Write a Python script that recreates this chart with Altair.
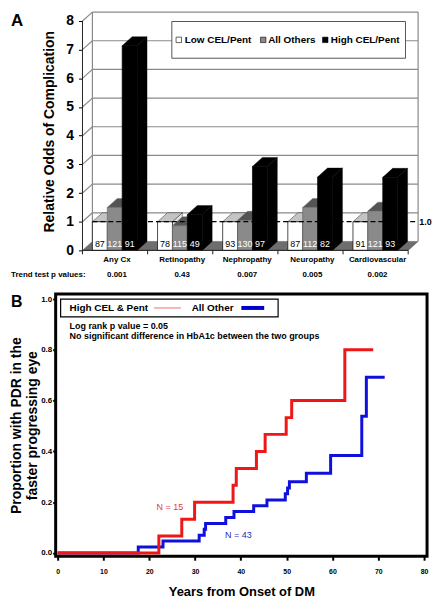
import altair as alt
import pandas as pd

# ---------------- data: panel A ----------------
categories = ["Any Cx", "Retinopathy", "Nephropathy", "Neuropathy", "Cardiovascular"]
series_names = ["Low CEL/Pent", "All Others", "High CEL/Pent"]
odds_low = [1.0, 1.0, 1.0, 1.0, 1.0]
odds_others = [1.50, 0.86, 1.05, 1.50, 1.37]
odds_high = [7.14, 1.25, 2.93, 2.56, 2.55]
n_low = [87, 78, 93, 87, 91]
n_others = [121, 115, 130, 112, 121]
n_high = [91, 49, 97, 82, 93]
trend_p = ["0.001", "0.43", "0.007", "0.005", "0.002"]
odds_ticks = [0, 1, 2, 3, 4, 5, 6, 7, 8]
reference_odds = 1.0

# ---------------- data: panel B ----------------
high_years = [0, 22.1, 27.1, 29.9, 38.3, 39.0, 43.4, 45.3, 49.9, 51.1, 62.7, 68.9]
high_prop = [0, 0.067, 0.133, 0.200, 0.267, 0.333, 0.400, 0.467, 0.533, 0.600, 0.800, 0.800]
other_years = [0, 17.6, 23.0, 30.9, 32.0, 32.3, 36.7, 38.5, 42.8, 45.7, 49.7, 50.2, 50.6,
               54.3, 59.6, 66.4, 67.4, 71.4]
other_prop = [0, 0.023, 0.047, 0.070, 0.093, 0.116, 0.140, 0.163, 0.186, 0.209, 0.233, 0.256,
              0.280, 0.314, 0.384, 0.538, 0.692, 0.692]
year_ticks = [0, 10, 20, 30, 40, 50, 60, 70, 80]
prop_ticks = [0.0, 0.2, 0.4, 0.6, 0.8, 1.0]

FONT = "Liberation Sans"
W = 374          # plot width shared by both panels (page x 53 .. 427)
PAGE_TOP = 8     # page y of panel A's plot top

# ================= panel A geometry (pseudo-3D bars) =================
A_PX_X = 65.6                       # px per category
A_H = 240                           # plot height of panel A
DEPTH_X, DEPTH_Y = 10, 9            # 3-D depth offset in px
A_PX_Y = (A_H - DEPTH_Y) / 8        # px per odds unit
A_ZERO = PAGE_TOP + A_H             # page y of odds 0
xa_dom = [-27 / A_PX_X, (W - 27) / A_PX_X]
ya_dom = [0, A_H / A_PX_Y]
DX = DEPTH_X / A_PX_X
DY = DEPTH_Y / A_PX_Y
BAR = 15 / A_PX_X
GAP = 10 / A_PX_X
ncat = len(categories)
top_odds = odds_ticks[-1]


def ax(px):
    return (px - 80) / A_PX_X


def ay(py):
    return (A_ZERO - py) / A_PX_Y


xs = alt.Scale(domain=xa_dom, nice=False, zero=False)
ys = alt.Scale(domain=ya_dom, nice=False, zero=False)

axisA = alt.Axis(values=odds_ticks, offset=-27, domain=False, grid=False, tickSize=4,
                 tickColor="black", labelFont=FONT, labelFontSize=14, labelFontWeight="bold",
                 labelColor="black", labelPadding=5, labelFlush=False,
                 title="Relative Odds of Complication", titleFont=FONT, titleFontSize=14,
                 titleFontWeight="bold", titleColor="black", titlePadding=9)


def XA(f):
    return alt.X(f, type="quantitative", scale=xs, axis=None)


def YA(f):
    return alt.Y(f, type="quantitative", scale=ys, axis=axisA)


series = [
    dict(name=series_names[0], odds=odds_low, n=n_low, front="#ffffff", top="#c4c4c4",
         side="#e2e2e2", txt="#000000", stroke="#000000"),
    dict(name=series_names[1], odds=odds_others, n=n_others, front="#8a8a8a", top="#545454",
         side="#666666", txt="#ffffff", stroke="#666666"),
    dict(name=series_names[2], odds=odds_high, n=n_high, front="#000000", top="#000000",
         side="#000000", txt="#ffffff", stroke="#000000"),
]

# floor
floor = pd.DataFrame({"x": [0, DX, ncat, ncat + DX], "y": [0, 0, 0, DY],
                      "y2": [0, DY, DY, DY]})
floor_layer = alt.Chart(floor).mark_area(color="#6e6e6e", stroke="#555555", strokeWidth=0.5).encode(
    x=XA("x"), y=YA("y"), y2="y2")

# walls / gridlines
grid_rows = []
for k in odds_ticks[1:]:
    grid_rows.append(dict(x=DX, x2=ncat + DX, y=k + DY, y2=k + DY))
    grid_rows.append(dict(x=0, x2=DX, y=k, y2=k + DY))
grid_rows.append(dict(x=DX, x2=DX, y=DY, y2=top_odds + DY))
grid_rows.append(dict(x=ncat + DX, x2=ncat + DX, y=DY, y2=top_odds + DY))
grid_layer = alt.Chart(pd.DataFrame(grid_rows)).mark_rule(color="#8a8a8a", strokeWidth=1.2).encode(
    x=XA("x"), x2="x2", y=YA("y"), y2="y2")

bar_layers = []
label_rows = []
for s, ser in enumerate(series):
    fronts, tops, sides = [], [], []
    for i, v in enumerate(ser["odds"]):
        x0 = i + GAP + s * BAR
        x1 = x0 + BAR
        fronts.append(dict(x=x0, x2=x1, y=0, y2=v))
        for xx, lo, hi in [(x0, v, v), (x0 + DX, v, v + DY), (x1, v, v + DY), (x1 + DX, v + DY, v + DY)]:
            tops.append(dict(key=i, x=xx, y=lo, y2=hi))
        for xx, lo, hi in [(x1, 0, v), (x1 + DX, DY, v + DY)]:
            sides.append(dict(key=i, x=xx, y=lo, y2=hi))
        label_rows.append(dict(x=(x0 + x1) / 2, y=6 / A_PX_Y, t=str(ser["n"][i]), c=ser["txt"]))
    bar_layers.append(alt.Chart(pd.DataFrame(sides)).mark_area(
        color=ser["side"], stroke=ser["stroke"], strokeWidth=0.4).encode(
        x=XA("x"), y=YA("y"), y2="y2", detail="key:N"))
    bar_layers.append(alt.Chart(pd.DataFrame(tops)).mark_area(
        color=ser["top"], stroke=ser["stroke"], strokeWidth=0.4).encode(
        x=XA("x"), y=YA("y"), y2="y2", detail="key:N"))
    bar_layers.append(alt.Chart(pd.DataFrame(fronts)).mark_rect(
        color=ser["front"], stroke=ser["stroke"], strokeWidth=0.7).encode(
        x=XA("x"), x2="x2", y=YA("y"), y2="y2"))

n_layer = alt.Chart(pd.DataFrame(label_rows)).mark_text(
    font=FONT, fontSize=9, align="center", baseline="middle").encode(
    x=XA("x"), y=YA("y"), text="t:N", color=alt.Color("c:N", scale=None))

ref_layer = alt.Chart(pd.DataFrame({"x": [GAP], "x2": [ax(415)],
                                    "y": [reference_odds]})).mark_rule(
    color="black", strokeWidth=1.3, strokeDash=[5, 3]).encode(x=XA("x"), x2="x2", y=YA("y"))
ref_text = alt.Chart(pd.DataFrame({"x": [ax(425.5)], "y": [reference_odds],
                                   "t": [f"{reference_odds:.1f}"]})).mark_text(
    font=FONT, fontSize=9, fontWeight="bold", align="center", baseline="middle").encode(
    x=XA("x"), y=YA("y"), text="t:N")

# front axis lines and ticks
axis_rows = [dict(x=0, x2=0, y=0, y2=top_odds), dict(x=0, x2=ncat, y=0, y2=0)]
for i in range(ncat + 1):
    axis_rows.append(dict(x=i, x2=i, y=0, y2=-4 / A_PX_Y))
axis_layer = alt.Chart(pd.DataFrame(axis_rows)).mark_rule(color="#222222", strokeWidth=1).encode(
    x=XA("x"), x2="x2", y=YA("y"), y2="y2")

cat_df = pd.DataFrame({"x": [i + 0.53 for i in range(ncat)], "cat": categories, "p": trend_p})
cat_layer = alt.Chart(cat_df).mark_text(font=FONT, fontSize=8, fontWeight="bold",
                                        align="center", baseline="middle").encode(
    x=XA("x"), y=alt.value(A_H + 10), text="cat:N")
p_layer = alt.Chart(cat_df).mark_text(font=FONT, fontSize=8, fontWeight="bold",
                                      align="center", baseline="middle").encode(
    x=XA("x"), y=alt.value(A_H + 25), text="p:N")
side_text = alt.Chart(pd.DataFrame({"x": [ax(8)], "t": ["Trend test p values:"]})).mark_text(
    font=FONT, fontSize=8, fontWeight="bold", align="left", baseline="middle").encode(
    x=XA("x"), y=alt.value(A_H + 25), text="t:N")
panel_a_label = alt.Chart(pd.DataFrame({"x": [ax(8)], "t": ["A"]})).mark_text(
    font=FONT, fontSize=17, fontWeight="bold", align="left", baseline="middle").encode(
    x=XA("x"), y=alt.value(9), text="t:N")

# legend of panel A
leg_box = alt.Chart(pd.DataFrame({"x": [ax(170)], "x2": [ax(405.3)],
                                  "y": [ay(17.5)], "y2": [ay(54.5)]})).mark_rect(
    fill="white", stroke="#555555", strokeWidth=1).encode(x=XA("x"), x2="x2", y=YA("y"), y2="y2")
leg_df = pd.DataFrame({
    "sx": [ax(177), ax(262), ax(324.5)],
    "tx": [ax(183), ax(267), ax(330)],
    "y": [ay(36)] * 3,
    "name": series_names,
    "fill": [ser["front"] for ser in series],
})
leg_sq = alt.Chart(leg_df).mark_square(size=30, stroke="black", strokeWidth=0.6, opacity=1).encode(
    x=XA("sx"), y=YA("y"), fill=alt.Fill("fill:N", scale=None))
leg_tx = alt.Chart(leg_df).mark_text(font=FONT, fontSize=10, fontWeight="bold", align="left",
                                     baseline="middle").encode(x=XA("tx"), y=YA("y"), text="name:N")

chartA = alt.layer(
    floor_layer, grid_layer, *bar_layers, ref_layer, n_layer, ref_text, axis_layer,
    cat_layer, p_layer, side_text, panel_a_label, leg_box, leg_sq, leg_tx
).properties(width=W, height=A_H, view=alt.ViewBackground(stroke="transparent"))

# ================= panel B =================
B_PX_X = 4.6125
B_H = 264
B_PX_Y = B_H - 5 - 3.3
xb_dom = [-2 / B_PX_X, (W - 2) / B_PX_X]
yb_dom = [-3.3 / B_PX_Y, (B_H - 3.3) / B_PX_Y]
xbs = alt.Scale(domain=xb_dom, nice=False, zero=False)
ybs = alt.Scale(domain=yb_dom, nice=False, zero=False)

axisBx = alt.Axis(values=year_ticks, format="d", domain=False, grid=False, tickSize=4,
                  tickWidth=2, tickColor="black", labelFont=FONT, labelFontSize=7,
                  labelFontWeight="bold", labelColor="black", labelPadding=7, labelFlush=False,
                  title="Years from Onset of DM", titleFont=FONT, titleFontSize=13,
                  titleFontWeight="bold", titleColor="black", titlePadding=12)
axisBy = alt.Axis(values=prop_ticks, format=".1f", domain=False, grid=False, tickSize=3,
                  tickWidth=2, tickColor="black", labelFont=FONT, labelFontSize=8,
                  labelFontWeight="bold", labelColor="black", labelPadding=1, labelFlush=False,
                  title=["Proportion with PDR in the", "faster progressing eye"], titleFont=FONT,
                  titleFontSize=14, titleFontWeight="bold", titleColor="black",
                  titleLineHeight=16, titlePadding=1)


def XB(f):
    return alt.X(f, type="quantitative", scale=xbs, axis=axisBx)


def YB(f):
    return alt.Y(f, type="quantitative", scale=ybs, axis=axisBy)


def bx(px):
    return (px - 55) / B_PX_X


def by(py):
    # reference-page y of panel B (0 at 556.7, 1 at 300) -> proportion
    return (556.7 - py) / 256.7


other_df = pd.DataFrame({"t": other_years, "p": other_prop})
high_df = pd.DataFrame({"t": high_years, "p": high_prop})
other_line = alt.Chart(other_df).mark_line(interpolate="step-after", color="#1010dd",
                                           strokeWidth=3).encode(x=XB("t"), y=YB("p"))
high_line = alt.Chart(high_df).mark_line(interpolate="step-after", color="#ee1616",
                                         strokeWidth=3).encode(x=XB("t"), y=YB("p"))

legB_box = alt.Chart(pd.DataFrame({"x": [bx(58)], "x2": [bx(277)], "y": [by(300)],
                                   "y2": [by(318)]})).mark_rect(
    fill="white", stroke="black", strokeWidth=1.2).encode(x=XB("x"), x2="x2", y=YB("y"), y2="y2")
legB_text = alt.Chart(pd.DataFrame({"x": [bx(67), bx(190)], "y": [by(309)] * 2,
                                    "t": ["High CEL & Pent", "All Other"]})).mark_text(
    font=FONT, fontSize=10, fontWeight="bold", align="left", baseline="middle").encode(
    x=XB("x"), y=YB("y"), text="t:N")
legB_high = alt.Chart(pd.DataFrame({"x": [bx(152)], "x2": [bx(179)], "y": [by(309)]})).mark_rule(
    color="#f09090", strokeWidth=1.3).encode(x=XB("x"), x2="x2", y=YB("y"))
legB_other = alt.Chart(pd.DataFrame({"x": [bx(240)], "x2": [bx(263)], "y": [by(309)]})).mark_rule(
    color="#0000cc", strokeWidth=4).encode(x=XB("x"), x2="x2", y=YB("y"))
note = alt.Chart(pd.DataFrame({"x": [bx(67)] * 2, "y": [by(327.7), by(337.7)],
                               "t": ["Log rank p value = 0.05",
                                     "No significant difference in HbA1c between the two groups"]})).mark_text(
    font=FONT, fontSize=9, fontWeight="bold", align="left", baseline="middle").encode(
    x=XB("x"), y=YB("y"), text="t:N")
n_labels = alt.Chart(pd.DataFrame({"x": [bx(168), bx(237)], "y": [by(510), by(539)],
                                   "t": ["N = 15", "N = 43"],
                                   "c": ["#e03a3a", "#2a2ac0"]})).mark_text(
    font=FONT, fontSize=9, align="center", baseline="middle").encode(
    x=XB("x"), y=YB("y"), text="t:N", color=alt.Color("c:N", scale=None))
panel_b_label = alt.Chart(pd.DataFrame({"x": [bx(8)], "y": [by(303)], "t": ["B"]})).mark_text(
    font=FONT, fontSize=16, fontWeight="bold", align="left", baseline="middle").encode(
    x=XB("x"), y=YB("y"), text="t:N")

chartB = alt.layer(
    other_line, high_line, legB_box, legB_text, legB_high, legB_other, note, n_labels, panel_b_label
).properties(width=W, height=B_H, view=alt.ViewBackground(stroke="black", strokeWidth=3))

chart = alt.vconcat(chartA, chartB, spacing=12).properties(
    padding={"left": 0, "top": 0, "right": 0, "bottom": 0}, background="white")

chart.save("out.html", embed_options={"renderer": "svg", "actions": False})
